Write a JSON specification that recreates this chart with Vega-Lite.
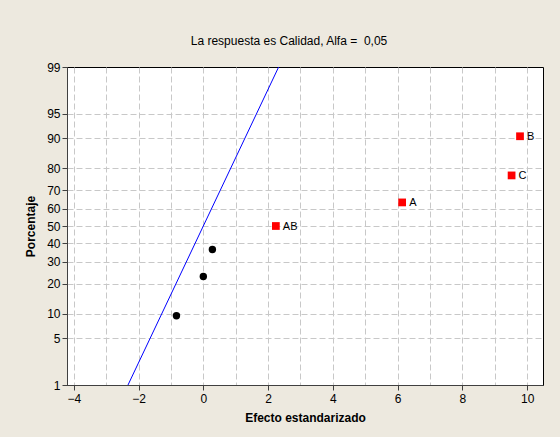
{
  "$schema": "https://vega.github.io/schema/vega-lite/v6.json",
  "autosize": {"type": "none"},
  "width": 476,
  "height": 318,
  "padding": {"left": 67, "top": 67, "right": 17, "bottom": 52},
  "background": "#EDE9DF",
  "title": {
    "text": "La respuesta es Calidad, Alfa =\u00a0 0,05",
    "font": "Liberation Sans",
    "fontSize": 12,
    "fontWeight": "normal",
    "color": "#000000",
    "anchor": "middle",
    "offset": 13,
    "dx": -16
  },
  "config": {
    "view": {"stroke": "#000000", "strokeWidth": 1, "fill": "#FFFFFF"},
    "axis": {
      "labelFont": "Liberation Sans",
      "labelFontSize": 12,
      "labelColor": "#000000",
      "labelOverlap": false,
      "titleFont": "Liberation Sans",
      "titleFontSize": 12,
      "titleFontWeight": "bold",
      "titleColor": "#000000",
      "domainColor": "#404040",
      "tickColor": "#404040",
      "gridColor": "#C8C8C8",
      "gridDash": [6, 3],
      "gridWidth": 1
    }
  },
  "datasets": {
    "efectos": [
      {"efecto": -0.83, "z": -1.313, "termino": "", "grupo": "no"},
      {"efecto": 0.0, "z": -0.740, "termino": "", "grupo": "no"},
      {"efecto": 0.28, "z": -0.345, "termino": "", "grupo": "no"},
      {"efecto": 2.24, "z": 0.0, "termino": "AB", "grupo": "si"},
      {"efecto": 6.14, "z": 0.345, "termino": "A", "grupo": "si"},
      {"efecto": 9.52, "z": 0.740, "termino": "C", "grupo": "si"},
      {"efecto": 9.78, "z": 1.313, "termino": "B", "grupo": "si"}
    ],
    "recta": [
      {"efecto": -2.3263, "z": -2.3263},
      {"efecto": 2.3263, "z": 2.3263}
    ]
  },
  "layer": [
    {
      "data": {"name": "recta"},
      "mark": {"type": "line", "color": "#0000FF", "strokeWidth": 1, "clip": true},
      "encoding": {
        "x": {
          "field": "efecto",
          "type": "quantitative",
          "scale": {"domain": [-4.21, 10.49], "nice": false, "zero": false},
          "axis": {
            "title": "Efecto estandarizado",
            "values": [-4, -3, -2, -1, 0, 1, 2, 3, 4, 5, 6, 7, 8, 9, 10],
            "tickCount": 100,
            "labelExpr": "datum.value % 2 === 0 ? format(datum.value, 'd') : ''",
            "tickOpacity": {"condition": {"test": "datum.value % 2 !== 0", "value": 0}, "value": 1},
            "tickSize": 5,
            "labelPadding": 3,
            "titlePadding": 8,
            "grid": true
          }
        },
        "y": {
          "field": "z",
          "type": "quantitative",
          "scale": {"domain": [-2.3263, 2.3263], "nice": false, "zero": false},
          "axis": {
            "title": "Porcentaje",
            "values": [-2.3263, -1.6449, -1.2816, -0.8416, -0.5244, -0.2533, 0, 0.2533, 0.5244, 0.8416, 1.2816, 1.6449, 2.3263],
            "tickCount": 100,
            "labelExpr": "format(round(cumulativeNormal(datum.value) * 100), 'd')",
            "gridOpacity": {"condition": {"test": "abs(datum.value) > 2.3", "value": 0}, "value": 1},
            "tickSize": 5,
            "labelPadding": 2,
            "titlePadding": 9,
            "grid": true
          }
        }
      }
    },
    {
      "data": {"name": "efectos"},
      "transform": [{"filter": "datum.grupo === 'no'"}],
      "mark": {"type": "circle", "color": "#000000", "opacity": 1, "size": 55},
      "encoding": {
        "x": {"field": "efecto", "type": "quantitative"},
        "y": {"field": "z", "type": "quantitative"}
      }
    },
    {
      "data": {"name": "efectos"},
      "transform": [{"filter": "datum.grupo === 'si'"}],
      "mark": {"type": "square", "color": "#FF0000", "opacity": 1, "filled": true, "size": 60},
      "encoding": {
        "x": {"field": "efecto", "type": "quantitative"},
        "y": {"field": "z", "type": "quantitative"}
      }
    },
    {
      "data": {"name": "efectos"},
      "transform": [{"filter": "datum.grupo === 'si'"}],
      "mark": {"type": "text", "align": "left", "dx": 7, "dy": 1, "font": "Liberation Sans", "fontSize": 11, "color": "#000000"},
      "encoding": {
        "x": {"field": "efecto", "type": "quantitative"},
        "y": {"field": "z", "type": "quantitative"},
        "text": {"field": "termino"}
      }
    }
  ]
}
